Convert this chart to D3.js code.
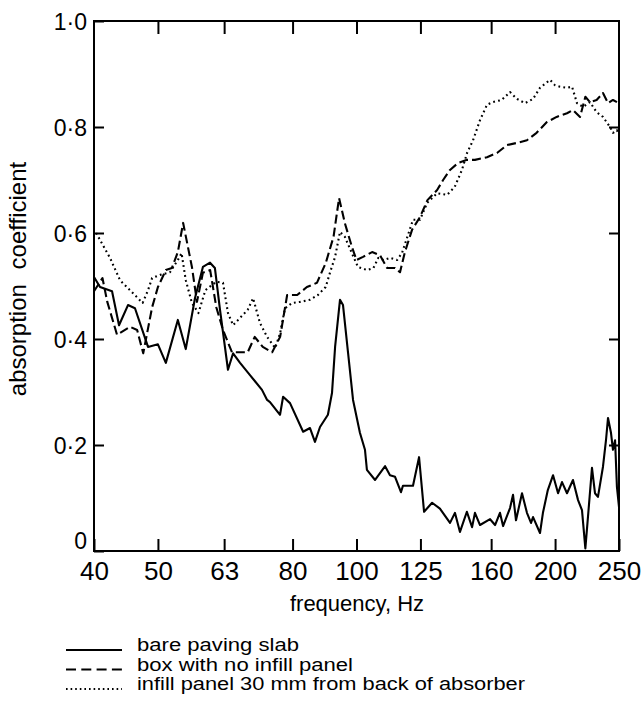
<!DOCTYPE html>
<html><head><meta charset="utf-8">
<script src="https://cdn.jsdelivr.net/npm/d3@7"></script>
<style>body{margin:0;background:#fff}svg{display:block}text{font-family:"Liberation Sans",Arial,sans-serif;fill:#000}</style>
</head><body><div id="chart"></div>
<script>
const xTickValues = [40, 50, 63, 80, 100, 125, 160, 200, 250];
const xTickLabels = ["40", "50", "63", "80", "100", "125", "160", "200", "250"];
const yTickValues = [0, 0.2, 0.4, 0.6, 0.8, 1.0];
const yTickLabels = ["0", "0·2", "0·4", "0·6", "0·8", "1·0"];
const seriesNames = ["bare paving slab", "box with no infill panel", "infill panel 30 mm from back of absorber"];

const bareFreq = [40.0,40.85,42.6,43.65,45.04,46.15,48.3,50.0,51.4,53.6,55.1,56.9,58.5,59.97,61.0,62.1,63.85,65.0,66.6,68.95,71.9,73.2,73.94,76.57,77.4,79.29,83.0,85.02,86.5,88.04,90.5,91.8,92.8,94.4,95.4,97.1,98.8,101.2,103.0,103.7,106.7,110.5,112.4,114.4,116.8,117.6,121.8,124.4,126.6,130.2,133.8,138.6,141.0,143.5,147.0,149.7,151.2,153.9,159.4,162.2,165.0,166.8,170.9,172.7,174.5,178.2,181.3,183.9,185.2,189.75,191.7,195.0,198.6,202.1,204.9,208.5,212.9,216.7,219.7,222.3,224.6,227.5,229.9,232.3,236.4,238.9,240.6,243.1,244.8,246.6,248.2,250];
const bareVal = [0.517,0.498,0.49,0.426,0.464,0.458,0.385,0.39,0.355,0.436,0.381,0.477,0.536,0.544,0.534,0.455,0.342,0.373,0.355,0.332,0.304,0.285,0.281,0.257,0.291,0.279,0.225,0.232,0.206,0.234,0.257,0.298,0.385,0.474,0.464,0.374,0.285,0.223,0.191,0.153,0.134,0.160,0.143,0.14,0.111,0.123,0.123,0.177,0.074,0.091,0.08,0.053,0.072,0.036,0.074,0.045,0.072,0.049,0.06,0.049,0.072,0.047,0.081,0.106,0.058,0.109,0.072,0.053,0.064,0.034,0.072,0.115,0.143,0.109,0.13,0.109,0.134,0.096,0.077,0.005,0.072,0.157,0.109,0.102,0.159,0.209,0.251,0.223,0.191,0.209,0.121,0.083];

const boxFreq = [40.0,41.2,41.9,43.35,45.36,46.5,47.5,49.0,50.0,51.4,52.5,53.6,54.6,56.3,57.3,58.5,60.0,61.3,62.75,64.75,66.6,68.4,70.1,72.1,74.5,76.6,78.5,81.3,84.1,87.1,89.8,92.3,94.1,96.0,98.4,100.0,102.3,105.6,108.55,111.3,114.4,116.4,118.4,121.4,124.8,128.1,132.5,135.3,138.6,142.5,147.1,151.2,157.7,163.3,169.1,175.1,181.3,187.5,194.2,201.1,208.5,212.9,218.2,222.3,225.9,231.2,236.4,240.6,244.8,250];
const boxVal = [0.49,0.515,0.47,0.408,0.423,0.417,0.373,0.46,0.498,0.53,0.534,0.564,0.619,0.536,0.47,0.525,0.53,0.46,0.417,0.375,0.375,0.375,0.404,0.385,0.375,0.404,0.483,0.483,0.498,0.506,0.543,0.593,0.666,0.619,0.574,0.549,0.555,0.564,0.558,0.534,0.534,0.526,0.564,0.606,0.63,0.662,0.681,0.70,0.719,0.732,0.738,0.738,0.743,0.751,0.766,0.77,0.775,0.789,0.809,0.819,0.826,0.832,0.819,0.857,0.847,0.851,0.864,0.845,0.851,0.845];

const infillFreq = [40.3,42.3,43.8,45.36,47.4,48.3,49.0,50.4,52.15,53.6,54.3,55.1,56.3,57.6,59.0,60.4,61.3,62.75,63.85,65.0,66.6,68.4,69.7,71.4,73.2,75.3,76.6,77.9,79.85,82.1,85.0,87.4,89.8,91.2,92.8,94.4,96.0,98.4,100.5,103.8,106.1,107.9,109.9,112.4,115.2,117.2,119.3,121.8,124.8,128.0,132.5,137.2,140.9,144.5,147.1,150.2,153.9,157.7,161.0,166.0,170.9,175.1,180.1,185.2,189.75,196.5,199.9,203.5,208.5,212.2,215.9,220.5,225.9,231.2,236.4,242.3,244.8,248.2,250];
const infillVal = [0.60,0.553,0.511,0.492,0.468,0.492,0.515,0.521,0.526,0.549,0.562,0.511,0.468,0.449,0.492,0.502,0.508,0.506,0.449,0.426,0.44,0.455,0.477,0.43,0.404,0.383,0.411,0.458,0.468,0.47,0.474,0.483,0.498,0.526,0.555,0.602,0.593,0.562,0.536,0.53,0.534,0.553,0.549,0.553,0.549,0.562,0.591,0.625,0.625,0.657,0.675,0.672,0.687,0.719,0.751,0.775,0.813,0.842,0.847,0.851,0.866,0.853,0.845,0.853,0.874,0.889,0.879,0.876,0.874,0.876,0.845,0.838,0.847,0.828,0.819,0.80,0.789,0.794,0.785];

const W = 644, H = 709;
const L = 94, R = 619, T = 21, B = 551;
const svg = d3.select("#chart").append("svg").attr("width", W).attr("height", H);
const x = d3.scaleLog().domain([40, 250]).range([L, R]);
const y = d3.scaleLinear().domain([0, 1]).range([B, T]);

const styles = [
  {dash: null, w: 2.1},
  {dash: "9,4", w: 2.1},
  {dash: "1.8,3.2", w: 2.1}
];
const series = [
  bareFreq.map((f, i) => [f, bareVal[i]]),
  boxFreq.map((f, i) => [f, boxVal[i]]),
  infillFreq.map((f, i) => [f, infillVal[i]])
];
const line = d3.line().x(d => x(d[0])).y(d => y(d[1]));
series.forEach((s, i) => {
  svg.append("path").datum(s).attr("d", line).attr("fill", "none")
    .attr("stroke", "#000").attr("stroke-width", styles[i].w)
    .attr("stroke-linejoin", "round")
    .attr("stroke-dasharray", styles[i].dash);
});

// frame
svg.append("rect").attr("x", L).attr("y", T).attr("width", R - L).attr("height", B - T)
  .attr("fill", "none").attr("stroke", "#000").attr("stroke-width", 2);

// axes
const gB = svg.append("g").attr("transform", `translate(0,${B})`)
  .call(d3.axisBottom(x).tickValues(xTickValues).tickSize(-12).tickPadding(0)
    .tickFormat((d, i) => xTickLabels[i]));
const gT = svg.append("g").attr("transform", `translate(0,${T})`)
  .call(d3.axisTop(x).tickValues(xTickValues.slice(1, -1)).tickSize(-13).tickFormat(""));
const gL = svg.append("g").attr("transform", `translate(${L},0)`)
  .call(d3.axisLeft(y).tickValues(yTickValues).tickSize(-10).tickPadding(8)
    .tickFormat((d, i) => yTickLabels[i]));
const gR = svg.append("g").attr("transform", `translate(${R},0)`)
  .call(d3.axisRight(y).tickValues(yTickValues.slice(1, -1)).tickSize(-10).tickFormat(""));
[gB, gT, gL, gR].forEach(g => {
  g.select(".domain").remove();
  g.selectAll(".tick line").attr("stroke", "#000").attr("stroke-width", 2);
});
gB.selectAll("text").attr("y", 28.5).attr("dy", null).attr("font-size", 26)
  .attr("font-family", "Liberation Sans, Arial, sans-serif").attr("fill", "#000");
gL.selectAll("text").attr("dy", d => d === 0 ? "-0.12em" : "0.36em").attr("font-size", 23).attr("x", -7)
  .attr("font-family", "Liberation Sans, Arial, sans-serif").attr("fill", "#000");

// titles
svg.append("text").attr("x", 357).attr("y", 611).attr("text-anchor", "middle")
  .attr("font-size", 22).text("frequency, Hz");
svg.append("text").attr("transform", "translate(26,279) rotate(-90)")
  .attr("text-anchor", "middle").attr("font-size", 24).attr("word-spacing", 8)
  .text("absorption coefficient");

// legend
const legY = [651, 670.5, 690];
const legW = [162, 216, 388];
seriesNames.forEach((name, i) => {
  svg.append("line").attr("x1", 66).attr("x2", 122).attr("y1", legY[i] - 1).attr("y2", legY[i] - 1)
    .attr("stroke", "#000").attr("stroke-width", 1.8)
    .attr("stroke-dasharray", i === 1 ? "10,5.3" : (i === 2 ? "1.6,3" : null));
  svg.append("text").attr("x", 137).attr("y", legY[i]).attr("font-size", 17.5)
    .attr("textLength", legW[i]).attr("lengthAdjust", "spacingAndGlyphs").text(name);
});
</script></body></html>
